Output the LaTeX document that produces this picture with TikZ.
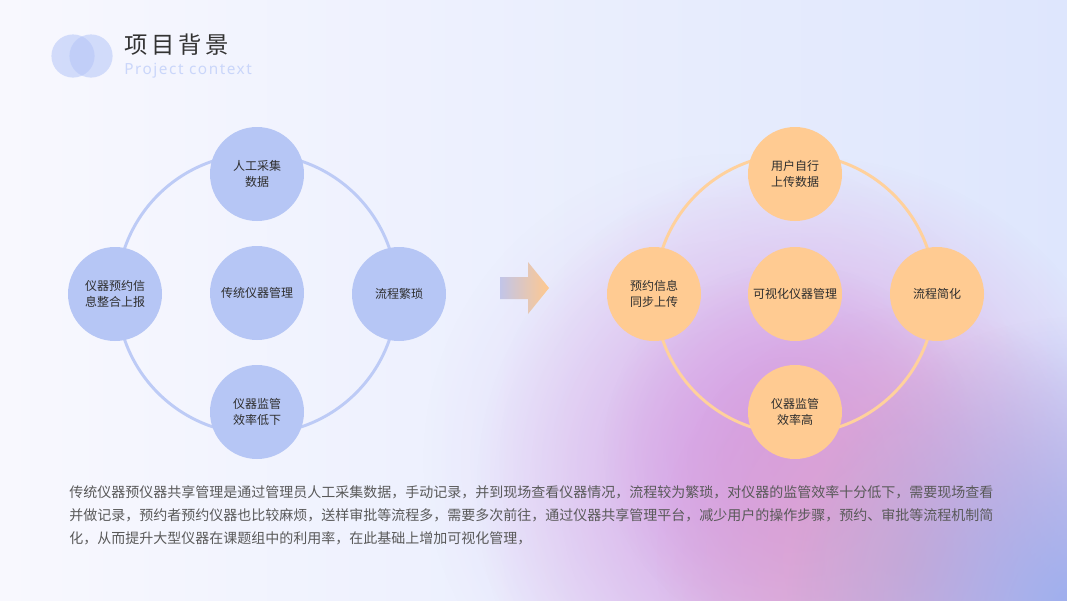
\documentclass[tikz,border=0pt]{standalone}
\usepackage{fontspec}
\setmainfont{Noto Sans CJK SC}
\newfontfamily\latinfont[LetterSpace=10]{Noto Sans}
\usetikzlibrary{fadings}
\definecolor{bgL}{HTML}{F8F8FE}
\definecolor{bgR}{HTML}{DEE6FD}
\definecolor{blobPurple}{HTML}{D69EE2}
\definecolor{blobPink}{HTML}{DDA6CC}
\definecolor{blobBlue}{HTML}{9CAEEE}
\definecolor{blobLav}{HTML}{E0D0F6}
\definecolor{blueFill}{HTML}{B6C6F5}
\definecolor{blueRing}{HTML}{BDCBF6}
\definecolor{orangeFill}{HTML}{FFCB92}
\definecolor{orangeRing}{HTML}{FFD19C}
\definecolor{arrowL}{HTML}{C2C5E8}
\definecolor{arrowR}{HTML}{FFC88E}
\definecolor{hdrBlue}{HTML}{B4C5F8}
\definecolor{titleGray}{HTML}{333333}
\definecolor{subBlue}{HTML}{CAD6FA}
\definecolor{nodeText}{HTML}{2E2E2E}
\definecolor{bodyText}{HTML}{595959}
\tikzfading[name=softdisc, inner color=transparent!0, outer color=transparent!100]
\tikzset{
  bubble/.style={circle, minimum size=70.5pt, inner sep=0pt, align=center,
    font=\fontsize{9pt}{12pt}\selectfont, text=nodeText},
  lnode/.style={bubble, fill=blueFill},
  rnode/.style={bubble, fill=orangeFill},
  lring/.style={draw=blueRing, line width=2.2pt},
  rring/.style={draw=orangeRing, line width=2.2pt},
  bodyline/.style={anchor=base west, inner sep=0pt, text=bodyText,
    font=\fontsize{10.5pt}{12pt}\selectfont},
}
\begin{document}
\begin{tikzpicture}[x=0.75pt,y=-0.75pt]
\useasboundingbox (0,0) rectangle (1067,600);
% background
\shade[left color=bgL, right color=bgR] (0,0) rectangle (1067,600);
\fill[blobLav, path fading=softdisc] (730,460) circle[radius=230pt];
\fill[blobPurple, path fading=softdisc] (810,490) circle[radius=250pt];
\fill[blobPurple, path fading=softdisc] (790,450) circle[radius=140pt];
\fill[blobPink, path fading=softdisc] (910,560) circle[radius=190pt];
\fill[blobBlue, path fading=softdisc] (1080,610) circle[radius=220pt];
\clip (0,0) rectangle (1067,600);

% header
\fill[hdrBlue, opacity=0.55] (73,56) circle[radius=16.2pt];
\fill[hdrBlue, opacity=0.55] (91,56) circle[radius=16.2pt];
\node[anchor=west, inner sep=0pt, text=titleGray,
  font=\fontsize{17.5pt}{20pt}\selectfont] (title) at (124,45) {项\,目\,背\,景};
\node[anchor=west, inner sep=0pt, text=subBlue,
  font=\latinfont\fontsize{11.5pt}{13pt}\selectfont] (sub) at (124,71) {Project context};

% left diagram
\coordinate (Lc) at (257,294);
\draw[lring] (Lc) circle[radius=105pt];
\node[lnode] (Ltop) at (257,174) {人工采集\\数据};
\node[lnode] (Lleft) at (115,294) {仪器预约信\\息整合上报};
\node[lnode] (Lright) at (399,294) {流程繁琐};
\node[lnode] (Lbot) at (257,412) {仪器监管\\效率低下};
\node[lnode] (Lmid) at (257,293) {传统仪器管理};

% arrow
\shade[left color=arrowL, right color=arrowR]
  (500,277) -- (528,277) -- (528,262) -- (549,288) -- (528,314) -- (528,299) -- (500,299) -- cycle;

% right diagram
\coordinate (Rc) at (795,294);
\draw[rring] (Rc) circle[radius=105pt];
\node[rnode] (Rtop) at (795,174) {用户自行\\上传数据};
\node[rnode] (Rleft) at (654,294) {预约信息\\同步上传};
\node[rnode] (Rright) at (937,294) {流程简化};
\node[rnode] (Rbot) at (795,412) {仪器监管\\效率高};
\node[rnode] (Rmid) at (795,294) {可视化仪器管理};

% body text
\node[bodyline] (body1) at (69,497) {传统仪器预仪器共享管理是通过管理员人工采集数据，手动记录，并到现场查看仪器情况，流程较为繁琐，对仪器的监管效率十分低下，需要现场查看};
\node[bodyline] (body2) at (69,520) {并做记录，预约者预约仪器也比较麻烦，送样审批等流程多，需要多次前往，通过仪器共享管理平台，减少用户的操作步骤，预约、审批等流程机制简};
\node[bodyline] (body3) at (69,543) {化，从而提升大型仪器在课题组中的利用率，在此基础上增加可视化管理，};
\end{tikzpicture}
\end{document}
